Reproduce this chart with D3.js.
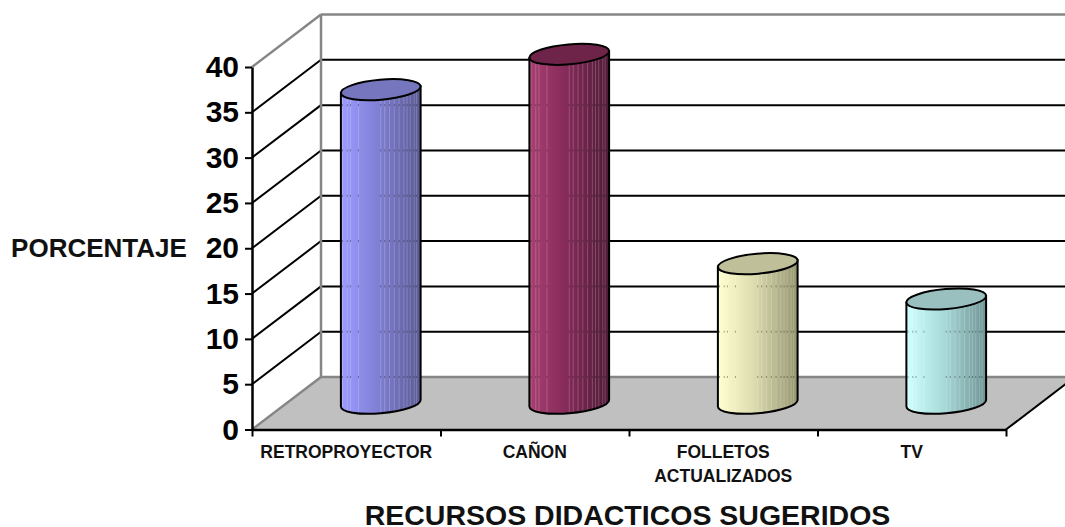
<!DOCTYPE html>
<html>
<head>
<meta charset="utf-8">
<script src="https://cdn.jsdelivr.net/npm/d3@7/dist/d3.min.js"></script>
<style>
  html, body { margin: 0; padding: 0; background: #fff; overflow: hidden; }
  svg { display: block; font-family: "Liberation Sans", Arial, sans-serif; font-weight: bold; }
  .y-axis text { font-size: 30px; fill: #000; }
  .cat { font-size: 17.5px; fill: #111; }
</style>
</head>
<body>
<svg id="chart" width="1065" height="527"></svg>
<script>
var categories = ['RETROPROYECTOR', 'CAÑON', 'FOLLETOS|ACTUALIZADOS', 'TV'];
var values = [34.6, 38.5, 15.4, 11.5];
var yTicks = [0, 5, 10, 15, 20, 25, 30, 35, 40];
var lightColors = ['#9c9cff', '#a83f72', '#ffffcf', '#cfffff'];
var midColors = ['#8080d6', '#862b5a', '#dcdcb0', '#aadcdc'];
var darkColors = ['#5a5a94', '#4f1a36', '#94946f', '#6f9494'];
var topColors = ['#7676bf', '#6e2448', '#bfbf99', '#99bfbf'];
var stripes = [0.02, 0.08, 0.12, 0.22, 0.5, 0.55, 0.61, 0.67, 0.73, 0.79, 0.83, 0.87, 0.92, 0.95];

var svg = d3.select('#chart');
var x0 = 252, x1 = 1006, yBottom = 429.5, yTop = 67;
var dx = 69, dy = -52.5;

var y = d3.scaleLinear().domain([0, 40]).range([yBottom, yTop]);
var x = d3.scaleBand().domain(categories).range([x0, x1]);
var xEdge = d3.scaleLinear().domain([0, categories.length]).range([x0, x1]);

// floor, runs off the right side of the page
var yRight = yBottom + dy * (1065 - x1) / dx;
svg.append('polygon')
  .attr('points', [[x0, yBottom], [x0 + dx, yBottom + dy], [1065, yBottom + dy], [1065, yRight], [x1, yBottom]].join(' '))
  .attr('fill', '#c0c0c0');

// back wall lines
yTicks.forEach(function(t) {
  var gray = t == 0 || t == 40;
  svg.append('line')
    .attr('x1', x0 + dx).attr('x2', 1065)
    .attr('y1', y(t) + dy).attr('y2', y(t) + dy)
    .attr('stroke', gray ? '#868686' : '#000')
    .attr('stroke-width', gray ? 2.5 : 2);
  svg.append('line')
    .attr('x1', x0).attr('x2', x0 + dx)
    .attr('y1', y(t)).attr('y2', y(t) + dy)
    .attr('stroke', gray ? '#868686' : '#000')
    .attr('stroke-width', gray ? 2.5 : 2);
});
svg.append('line')
  .attr('x1', x0 + dx).attr('x2', x0 + dx)
  .attr('y1', y(40) + dy).attr('y2', y(0) + dy)
  .attr('stroke', '#868686').attr('stroke-width', 2.5);
// right edge of floor
svg.append('line')
  .attr('x1', x1).attr('y1', yBottom)
  .attr('x2', x1 + dx).attr('y2', yBottom + dy)
  .attr('stroke', '#000').attr('stroke-width', 2);

// cylinders
var defs = svg.append('defs');
var rx = 40, ry = 10, rot = -5;
var th = rot * Math.PI / 180;
var ext = Math.sqrt(rx * rx * Math.cos(th) * Math.cos(th) + ry * ry * Math.sin(th) * Math.sin(th));
var tilt = (rx * rx - ry * ry) * Math.sin(-th) * Math.cos(th) / ext;

categories.forEach(function(c, i) {
  var cx = x(c) + x.bandwidth() / 2 + dx / 2;
  var yb = y(0) + dy / 2;
  var yt = y(values[i]) + dy / 2;

  var grad = defs.append('linearGradient').attr('id', 'g' + i);
  grad.append('stop').attr('offset', '0').attr('stop-color', lightColors[i]);
  grad.append('stop').attr('offset', '0.45').attr('stop-color', midColors[i]);
  grad.append('stop').attr('offset', '1').attr('stop-color', darkColors[i]);

  var g = svg.append('g');
  var clipId = 'clip' + i;
  var body = 'M' + (cx - ext) + ',' + (yt + tilt) +
    'L' + (cx - ext) + ',' + (yb + tilt) +
    'A' + rx + ',' + ry + ' ' + rot + ' 0 0 ' + (cx + ext) + ',' + (yb - tilt) +
    'L' + (cx + ext) + ',' + (yt - tilt) + 'Z';
  defs.append('clipPath').attr('id', clipId).append('path').attr('d', body);

  g.append('path').attr('d', body).attr('fill', 'url(#g' + i + ')');

  // light stripes of the banded fill, grid shows through at each stripe
  var sg = g.append('g').attr('clip-path', 'url(#' + clipId + ')');
  stripes.forEach(function(s) {
    var sx = cx - ext + s * ext * 2;
    sg.append('line')
      .attr('x1', sx).attr('x2', sx)
      .attr('y1', yt - 15).attr('y2', yb + 15)
      .attr('stroke', '#fff').attr('stroke-opacity', 0.2).attr('stroke-width', 1);
    yTicks.forEach(function(t) {
      var gridY = y(t) + dy;
      if (gridY > yt + 12) {
        sg.append('line')
          .attr('x1', sx).attr('x2', sx)
          .attr('y1', gridY - 1).attr('y2', gridY + 1)
          .attr('stroke', '#000').attr('stroke-opacity', 0.35).attr('stroke-width', 1);
      }
    });
  });

  g.append('path').attr('d', body)
    .attr('fill', 'none').attr('stroke', '#000').attr('stroke-width', 2);
  g.append('ellipse')
    .attr('rx', rx).attr('ry', ry)
    .attr('transform', 'translate(' + cx + ',' + yt + ') rotate(' + rot + ')')
    .attr('fill', topColors[i]).attr('stroke', '#000').attr('stroke-width', 2);
});

// axes
var yAxis = d3.axisLeft(y).tickValues(yTicks).tickSize(7).tickSizeOuter(0).tickPadding(6);
var gy = svg.append('g').attr('class', 'y-axis')
  .attr('transform', 'translate(' + x0 + ',0)')
  .call(yAxis);
gy.selectAll('line').attr('stroke', '#000').attr('stroke-width', 2);
gy.select('path').attr('stroke', '#000').attr('stroke-width', 2.5);

var xAxis = d3.axisBottom(xEdge).tickValues(d3.range(categories.length + 1)).tickSize(7).tickSizeOuter(0).tickFormat('');
var gx = svg.append('g')
  .attr('transform', 'translate(0,' + yBottom + ')')
  .call(xAxis);
gx.selectAll('line').attr('stroke', '#000').attr('stroke-width', 2);
gx.select('path').attr('stroke', '#000').attr('stroke-width', 2.5);

// category labels
categories.forEach(function(c) {
  c.split('|').forEach(function(part, j) {
    svg.append('text').attr('class', 'cat')
      .attr('x', x(c) + x.bandwidth() / 2)
      .attr('y', 458 + j * 24)
      .attr('text-anchor', 'middle')
      .text(part);
  });
});

svg.append('text')
  .attr('x', 99).attr('y', 257)
  .attr('text-anchor', 'middle')
  .attr('font-size', 26)
  .attr('fill', '#111')
  .text('PORCENTAJE');

svg.append('text')
  .attr('x', 627.5).attr('y', 525)
  .attr('text-anchor', 'middle')
  .attr('font-size', 28.5)
  .attr('fill', '#111')
  .text('RECURSOS DIDACTICOS SUGERIDOS');
</script>
</body>
</html>
